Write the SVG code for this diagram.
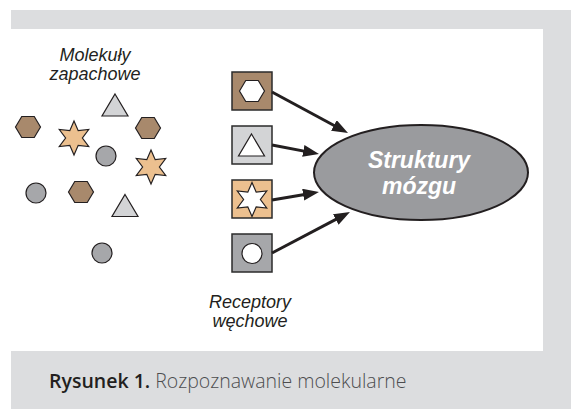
<svg xmlns="http://www.w3.org/2000/svg" width="571" height="409" viewBox="0 0 571 409">
  <style>
    .band { fill: #dcdddf; }
    .lbl { font-family: "Liberation Sans", Arial, sans-serif; font-style: italic; font-size: 18px; fill: #231f20; text-anchor: middle; }
    .brain { font-family: "Liberation Sans", Arial, sans-serif; font-style: italic; font-weight: bold; font-size: 23px; fill: #ffffff; text-anchor: middle; }
    .cap { font-family: "Open Sans", "Noto Sans", sans-serif; font-size: 19.5px; }
    .mol { stroke: #231f20; stroke-width: 1.2; stroke-linejoin: miter; }
    .hex { fill: #a8896c; }
    .tri { fill: #d3d4d6; }
    .star { fill: #ecc08f; }
    .circ { fill: #a6a7aa; }
    .box { stroke: #2b2b2b; stroke-width: 1.5; }
    .inner { fill: #ffffff; stroke: #231f20; stroke-width: 1.2; }
    .conn line { stroke: #231f20; stroke-width: 3; marker-end: url(#ah); }
  </style>
  <defs>
    <marker id="ah" viewBox="0 0 16 12" refX="6" refY="6" markerWidth="16" markerHeight="12" markerUnits="userSpaceOnUse" orient="auto">
      <path d="M0,0 L16,6 L0,12 z" fill="#231f20"/>
    </marker>
    <path id="hexagon" d="M-12.5,0 L-6.25,-10.5 L6.25,-10.5 L12.5,0 L6.25,10.5 L-6.25,10.5 Z"/>
    <path id="triangle" d="M0,-11 L13,11 L-13,11 Z"/>
    <path id="hexstar" d="M0,-17 L4.2,-7.3 L14.7,-8.5 L8.4,0 L14.7,8.5 L4.2,7.3 L0,17 L-4.2,7.3 L-14.7,8.5 L-8.4,0 L-14.7,-8.5 L-4.2,-7.3 Z"/>
    <circle id="dot" r="10"/>
  </defs>

  <!-- page frame -->
  <rect class="band" x="11" y="10" width="560" height="19"/>
  <rect class="band" x="543" y="10" width="28" height="341"/>
  <rect class="band" x="11" y="351" width="560" height="58"/>

  <!-- odour molecules -->
  <g id="molecules">
    <text class="lbl" x="95" y="61">Molekuły</text>
    <text class="lbl" x="95" y="80">zapachowe</text>
    <use href="#triangle" class="mol tri" x="115" y="105"/>
    <use href="#hexagon" class="mol hex" x="28" y="127"/>
    <use href="#hexstar" class="mol star" x="74" y="138"/>
    <use href="#hexagon" class="mol hex" x="148" y="128"/>
    <use href="#dot" class="mol circ" x="106" y="156"/>
    <use href="#hexstar" class="mol star" x="151" y="167"/>
    <use href="#dot" class="mol circ" x="36" y="193"/>
    <use href="#hexagon" class="mol hex" x="81" y="192"/>
    <use href="#triangle" class="mol tri" x="125" y="205.5"/>
    <use href="#dot" class="mol circ" x="102" y="253"/>
  </g>

  <!-- receptors -->
  <g id="receptor-hex">
    <rect class="box" x="232" y="72" width="40" height="38" fill="#a8896c"/>
    <use href="#hexagon" class="inner" x="252" y="91"/>
  </g>
  <g id="receptor-tri">
    <rect class="box" x="232" y="126" width="40" height="38" fill="#d3d4d6"/>
    <use href="#triangle" class="inner" x="251.5" y="145"/>
  </g>
  <g id="receptor-star">
    <rect class="box" x="232" y="180" width="40" height="38" fill="#ecc08f"/>
    <use href="#hexstar" class="inner" x="252" y="199.5"/>
  </g>
  <g id="receptor-dot">
    <rect class="box" x="232" y="234" width="40" height="38" fill="#a6a7aa"/>
    <use href="#dot" class="inner" x="252" y="253.5"/>
  </g>
  <g id="receptor-label">
    <text class="lbl" x="250" y="308">Receptory</text>
    <text class="lbl" x="250" y="327">węchowe</text>
  </g>

  <!-- brain -->
  <g id="brain">
    <ellipse cx="421" cy="172.5" rx="107" ry="47.5" fill="#9a9b9e" stroke="#231f20" stroke-width="2"/>
    <text class="brain" x="419" y="168">Struktury</text>
    <text class="brain" x="419" y="194">mózgu</text>
  </g>

  <!-- signal arrows -->
  <g id="connectors" class="conn">
    <line x1="272" y1="92" x2="339.2" y2="128.3"/>
    <line x1="272" y1="145" x2="309.2" y2="152.1"/>
    <line x1="272" y1="200" x2="309.1" y2="193.7"/>
    <line x1="272" y1="253" x2="341.1" y2="216.7"/>
  </g>

  <!-- caption -->
  <text class="cap" x="49" y="388"><tspan font-weight="600" fill="#231f20">Rysunek 1.</tspan><tspan fill="#4d4d4f" font-weight="300"> Rozpoznawanie molekularne</tspan></text>
</svg>
